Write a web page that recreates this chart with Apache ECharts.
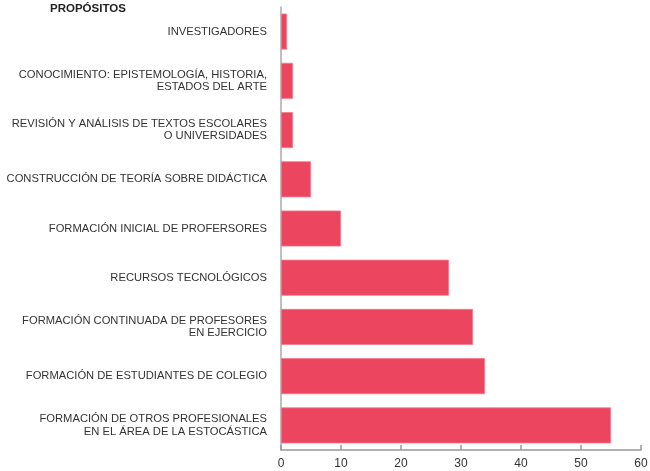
<!DOCTYPE html>
<html><head><meta charset="utf-8">
<script src="https://cdn.jsdelivr.net/npm/echarts@6/dist/echarts.min.js"></script>
<style>html,body{margin:0;padding:0;background:#fff}#c{width:650px;height:471px}</style>
</head><body><div id="c"></div>
<script>
const categories = [
  "INVESTIGADORES",
  "CONOCIMIENTO: EPISTEMOLOGÍA, HISTORIA,\nESTADOS DEL ARTE",
  "REVISIÓN Y ANÁLISIS DE TEXTOS ESCOLARES\nO UNIVERSIDADES",
  "CONSTRUCCIÓN DE TEORÍA SOBRE DIDÁCTICA",
  "FORMACIÓN INICIAL DE PROFERSORES",
  "RECURSOS TECNOLÓGICOS",
  "FORMACIÓN CONTINUADA DE PROFESORES\nEN EJERCICIO",
  "FORMACIÓN DE ESTUDIANTES DE COLEGIO",
  "FORMACIÓN DE OTROS PROFESIONALES\nEN EL ÁREA DE LA ESTOCÁSTICA"
];
const values = [1, 2, 2, 5, 10, 28, 32, 34, 55];
const xTicks = [0, 10, 20, 30, 40, 50, 60];
const axisTitle = "PROPÓSITOS";

const chart = echarts.init(document.getElementById('c'), null, {renderer: 'canvas'});
chart.setOption({
  animation: false,
  title: {
    text: axisTitle, left: 50, top: 3, padding: 0,
    textStyle: {fontFamily: 'Liberation Sans', fontSize: 11.5, fontWeight: 'bold', color: '#222'}
  },
  grid: {left: 281, right: 9, top: 7, bottom: 21, containLabel: false, outerBoundsMode: 'none'},
  xAxis: {
    type: 'value', min: xTicks[0], max: xTicks[xTicks.length - 1], interval: 10,
    axisLine: {show: true, lineStyle: {color: '#999', width: 1.5}},
    axisTick: {show: true, inside: true, length: 5, lineStyle: {color: '#999', width: 1.5}},
    splitLine: {show: false},
    axisLabel: {color: '#333', fontFamily: 'Liberation Sans', fontSize: 12, margin: 8}
  },
  yAxis: {
    type: 'category', data: categories, inverse: true,
    axisLine: {show: true, lineStyle: {color: '#aaa', width: 1.5}},
    axisTick: {show: false},
    axisLabel: {color: '#333', fontFamily: 'Liberation Sans', fontSize: 11.2, lineHeight: 12.5, margin: 14, align: 'right'}
  },
  series: [{
    type: 'bar', data: values, barWidth: 36,
    itemStyle: {color: '#EC4560', borderColor: '#F47A8E', borderWidth: 0.8}
  }]
});
</script></body></html>
